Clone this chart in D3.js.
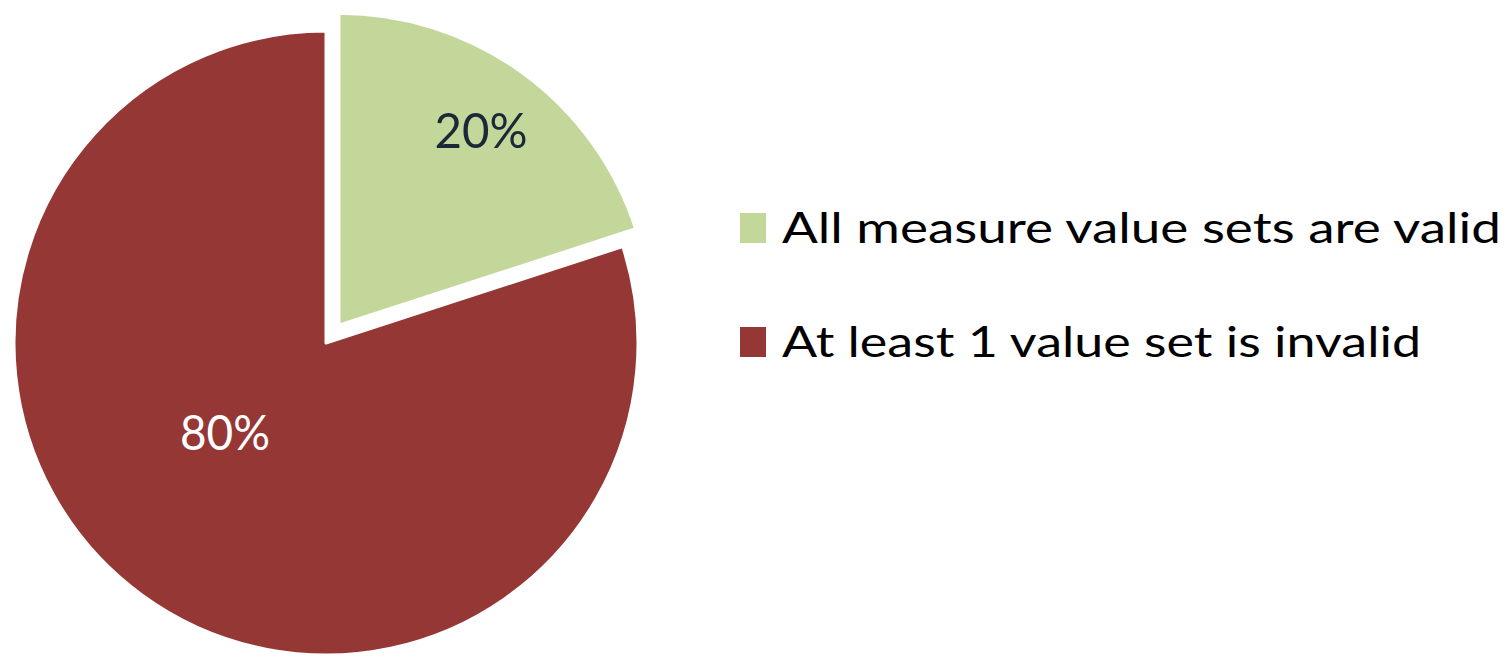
<!DOCTYPE html>
<html>
<head>
<meta charset="utf-8">
<script src="https://cdn.jsdelivr.net/npm/d3@7"></script>
<style>
  body { margin: 0; background: #fff; }
  text { font-family: Lato, "Open Sans", sans-serif; }
</style>
</head>
<body>
<div id="chart"></div>
<script>
// data
var categories = ["All measure value sets are valid", "At least 1 value set is invalid"];
var shares = [20, 80];
var sliceLabels = ["20%", "80%"];
var colors = ["#c4d79b", "#953735"];

var width = 1508, height = 657;
var cx = 326, cy = 343, radius = 312;

var svg = d3.select("#chart").append("svg")
  .attr("width", width)
  .attr("height", height);

var pie = d3.pie().sort(null).value(function(d) { return d; });
var arcs = pie(shares);
var arc = d3.arc().innerRadius(0).outerRadius(radius);

var g = svg.append("g").attr("transform", "translate(" + cx + "," + cy + ")");

// the first slice is pulled out a bit
var explode = [22, 0];

var slice = g.selectAll("g.slice")
  .data(arcs)
  .enter().append("g")
  .attr("class", "slice")
  .attr("transform", function(d, i) {
    var a = (d.startAngle + d.endAngle) / 2;
    return "translate(" + (Math.sin(a) * explode[i]) + "," + (-Math.cos(a) * explode[i]) + ")";
  });

slice.append("path")
  .attr("d", arc)
  .attr("fill", function(d, i) { return colors[i]; })
  .attr("stroke", "#fff")
  .attr("stroke-width", 3)
  .attr("stroke-linejoin", "round");

// slice labels (squeezed to the width of the narrower original font)
var labelPos = [[481, 148], [225, 450]];
var labelWidth = [93, 90];
var labelColor = ["#1b2838", "#ffffff"];

g.selectAll("text.label")
  .data(arcs)
  .enter().append("text")
  .attr("class", "label")
  .attr("x", function(d, i) { return labelPos[i][0] - cx - labelWidth[i] / 2; })
  .attr("y", function(d, i) { return labelPos[i][1] - cy; })
  .attr("font-size", 49)
  .attr("textLength", function(d, i) { return labelWidth[i]; })
  .attr("lengthAdjust", "spacingAndGlyphs")
  .attr("fill", function(d, i) { return labelColor[i]; })
  .text(function(d, i) { return sliceLabels[i]; });

// legend
var legendY = [243, 357];
var legendWidth = [719, 639];
var legend = svg.selectAll("g.legend")
  .data(categories)
  .enter().append("g")
  .attr("class", "legend");

legend.append("rect")
  .attr("x", 740)
  .attr("y", function(d, i) { return legendY[i] - 30; })
  .attr("width", 26)
  .attr("height", 30)
  .attr("fill", function(d, i) { return colors[i]; });

legend.append("text")
  .attr("x", 782)
  .attr("y", function(d, i) { return legendY[i]; })
  .attr("font-size", 42)
  .attr("textLength", function(d, i) { return legendWidth[i]; })
  .attr("lengthAdjust", "spacingAndGlyphs")
  .attr("fill", "#000")
  .text(function(d) { return d; });
</script>
</body>
</html>
